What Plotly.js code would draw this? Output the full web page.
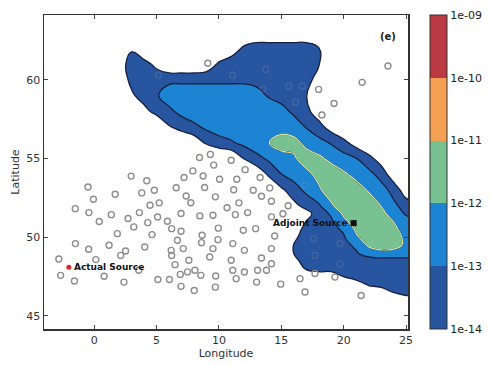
<!DOCTYPE html>
<html>
<head>
<meta charset="utf-8">
<script src="https://cdn.plot.ly/plotly-3.0.1.min.js"></script>
<style>
  html, body { margin: 0; padding: 0; background: #fff; }
  #chart { width: 492px; height: 365px; }
</style>
</head>
<body>
<div id="chart"></div>
<script>
// Grid of the modelled field: longitude columns, latitude rows
const lonGrid = [2, 3, 4, 5, 6, 7, 8, 9, 10, 11, 12, 13, 14, 15, 16, 17, 18, 19, 20, 21, 22, 23, 24, 25, 26];
const latGrid = [46, 46.5, 47, 47.5, 48, 48.5, 49, 49.5, 50, 50.5, 51, 51.5, 52, 53, 54, 55, 56, 57, 58, 59, 60, 61, 62, 63];

// log10 of the sensitivity / concentration at each grid node (rows follow latGrid)
const logField = [
  [-15,-15,-15,-15,-15,-15,-15,-15,-15,-15,-15,-15,-15,-15,-15,-15,-15,-15,-15,-15,-15,-15,-15,-14.9,-14.8],
  [-15,-15,-15,-15,-15,-15,-15,-15,-15,-15,-15,-15,-15,-15,-15,-15,-15,-15,-15,-15,-15,-15,-13.98,-13.4,-13.4],
  [-15,-15,-15,-15,-15,-15,-15,-15,-15,-15,-15,-15,-15,-15,-15,-15,-15,-15,-15,-14.75,-13.85,-13.4,-13.4,-13.4,-13.4],
  [-15,-15,-15,-15,-15,-15,-15,-15,-15,-15,-15,-15,-15,-15,-15,-15,-15,-15,-13.98,-13.4,-13.4,-13.4,-13.4,-13.4,-13.4],
  [-15,-15,-15,-15,-15,-15,-15,-15,-15,-15,-15,-15,-15,-15,-14.8,-13.88,-13.4,-13.4,-13.4,-13.4,-13.4,-13.4,-13.4,-13.4,-13.4],
  [-15,-15,-15,-15,-15,-15,-15,-15,-15,-15,-15,-15,-15,-15,-14.3,-13.58,-13.4,-13.4,-13.4,-13.4,-13.4,-13.4,-13.4,-13.4,-13.4],
  [-15,-15,-15,-15,-15,-15,-15,-15,-15,-15,-15,-15,-15,-15,-13.98,-13.81,-13.63,-13.44,-13.26,-13.07,-12.6,-12.35,-12.35,-12.35,-12.35],
  [-15,-15,-15,-15,-15,-15,-15,-15,-15,-15,-15,-15,-15,-15,-13.98,-13.8,-13.59,-13.39,-13.18,-12.87,-11.83,-11.5,-11.65,-12.18,-12.5],
  [-15,-15,-15,-15,-15,-15,-15,-15,-15,-15,-15,-15,-15,-15,-14.1,-13.79,-13.56,-13.33,-13.09,-12.14,-11.55,-11.5,-11.65,-12.18,-12.6],
  [-15,-15,-15,-15,-15,-15,-15,-15,-15,-15,-15,-15,-15,-15,-14.3,-13.81,-13.53,-13.25,-12.88,-11.85,-11.5,-11.5,-11.8,-12.36,-12.6],
  [-15,-15,-15,-15,-15,-15,-15,-15,-15,-15,-15,-15,-15,-15,-14.85,-13.97,-13.55,-13.16,-12.25,-11.6,-11.5,-11.5,-12.02,-12.6,-12.7],
  [-15,-15,-15,-15,-15,-15,-15,-15,-15,-15,-15,-15,-15,-15,-15,-14.4,-13.5,-12.87,-11.83,-11.5,-11.5,-11.75,-12.38,-13.12,-13.6],
  [-15,-15,-15,-15,-15,-15,-15,-15,-15,-15,-15,-15,-15,-15,-14.3,-13.65,-13.15,-12.13,-11.55,-11.5,-11.5,-12.02,-12.77,-13.42,-13.6],
  [-15,-15,-15,-15,-15,-15,-15,-15,-15,-15,-15,-15,-15,-14.2,-13.45,-12.77,-12.13,-11.6,-11.5,-11.58,-12.08,-12.59,-13.33,-14.6,-15],
  [-15,-15,-15,-15,-15,-15,-15,-15,-15,-15,-15,-14.8,-13.83,-13.02,-12.61,-12.22,-11.78,-11.5,-11.85,-12.28,-12.68,-13.36,-14.65,-15,-15],
  [-15,-15,-15,-15,-15,-15,-15,-15,-15,-15,-13.98,-13.33,-12.82,-12.46,-12.11,-11.65,-11.8,-12.22,-12.59,-12.96,-13.64,-14.5,-15,-15,-15],
  [-15,-15,-15,-15,-15,-15,-14.7,-13.88,-13.5,-13.12,-12.75,-12.38,-12.02,-11.53,-11.75,-12.21,-12.64,-13.09,-13.68,-14.45,-15,-15,-15,-15,-15],
  [-15,-15,-15,-15,-14.1,-13.65,-13.25,-12.79,-12.4,-12.4,-12.4,-12.4,-12.4,-12.4,-12.4,-13.05,-13.63,-14.4,-15,-15,-15,-15,-15,-15,-15],
  [-15,-15,-14.3,-13.68,-13.23,-12.7,-12.4,-12.4,-12.4,-12.4,-12.4,-12.4,-12.4,-12.64,-13.21,-13.74,-14.5,-15,-15,-15,-15,-15,-15,-15,-15],
  [-15,-14.15,-13.59,-13.1,-12.52,-12.4,-12.4,-12.4,-12.4,-12.4,-12.4,-12.61,-13.1,-13.39,-13.67,-13.96,-14.85,-15,-15,-15,-15,-15,-15,-15,-15],
  [-14.6,-13.76,-13.4,-13.3,-13.2,-13.2,-13.2,-13.2,-13.2,-13.2,-13.2,-13.3,-13.4,-13.4,-13.4,-13.64,-14.4,-15,-15,-15,-15,-15,-15,-15,-15],
  [-14.4,-13.64,-13.58,-14.3,-15,-15,-15,-14.7,-13.82,-13.4,-13.4,-13.4,-13.4,-13.4,-13.4,-13.4,-13.94,-14.9,-15,-15,-15,-15,-15,-15,-15],
  [-15,-14.1,-15,-15,-15,-15,-15,-15,-15,-14.6,-13.8,-13.4,-13.4,-13.4,-13.4,-13.4,-13.94,-14.9,-15,-15,-15,-15,-15,-15,-15],
  [-15,-15,-15,-15,-15,-15,-15,-15,-15,-15,-15,-15,-15,-15,-15,-15,-15,-15,-15,-15,-15,-15,-15,-15,-15]
];

// Contour levels (exponents) and their colour-bar labels
const levelExp = [-14, -13, -12, -11, -10, -9];
const levelLabels = ['1e-14', '1e-13', '1e-12', '1e-11', '1e-10', '1e-09'];
const bandColors = ['#27559f', '#1d84d4', '#78c190', '#f4a052', '#ba3942'];

// Measurement stations
const stationLon = [
  2.96, 4.21, -0.5, -0.07, 1.68, 3.81, 4.82, 5.21, 4.47, -1.52,
  -0.43, 1.37, 3.62, 2.71, 5.08, 5.87, 0.4, 4.29, 6.57, 3.17,
  1.85, 4.63, -1.51, -0.45, 1.19, 4.05, -2.84, -2.7, -1.59, 0.13,
  0.79, 2.38, 2.51, 2.12, 3.57, 5.1, 6.03, 6.17, 6.21, 6.48,
  6.96, 6.21, 6.67, 6.96, 7.14, 6.9, 6.96, 7.59, 7.48, 8.02,
  8.55, 8.07, 8.47, 8.65, 8.6, 7.37, 7.74, 8.85, 9.71, 9.52,
  9.95, 9.92, 9.52, 9.26, 9.74, 9.71, 10.65, 11.32, 11.6, 11.11,
  10.98, 11.11, 11.38, 12.04, 11.95, 12.04, 11.18, 8.44, 9.31, 10.98,
  9.58, 7.91, 8.73, 10.05, 12.1, 7.2, 11.43, 13.3, 12.75, 14.07,
  13.41, 14.21, 15.55, 12.3, 14.21, 15.13, 12.94, 14.47, 14.21, 13.41,
  14.21, 13.1, 13.81, 13.02, 14.95, 17.7, 19.3, 16.5, 16.9, 21.4,
  23.55, 21.48, 17.99, 19.23, 18.25, 9.1
];
const stationLat = [
  53.89, 53.59, 53.2, 52.42, 52.74, 52.82, 52.99, 52.19, 52.04, 51.82,
  51.57, 51.44, 51.57, 51.19, 51.29, 51.02, 51.0, 50.93, 53.15, 50.66,
  50.23, 50.17, 49.6, 49.24, 49.49, 49.38, 48.62, 47.58, 47.22, 48.58,
  47.52, 47.15, 49.13, 48.85, 47.9, 47.32, 47.32, 49.17, 48.85, 48.26,
  51.51, 50.55, 49.81, 50.38, 49.28, 47.64, 46.88, 48.54, 47.8, 46.62,
  47.58, 47.9, 51.36, 50.13, 49.66, 52.62, 52.2, 53.16, 52.57, 51.4,
  50.58, 49.85, 49.28, 48.75, 47.54, 46.83, 51.88, 51.44, 52.19, 49.6,
  48.54, 47.9, 47.37, 47.79, 50.45, 49.17, 53.02, 55.07, 55.27, 54.9,
  54.59, 54.22, 53.9, 53.69, 54.3, 53.8, 53.69, 53.8, 52.99, 53.14,
  52.61, 52.29, 52.0, 51.57, 51.3, 51.5, 50.55, 50.08, 49.28, 48.68,
  48.32, 47.9, 47.9, 47.15, 47.02, 47.7, 47.47, 47.37, 46.52, 46.3,
  60.89, 59.85, 59.4, 58.5, 57.77, 61.06
];
// Stations lying under the plume
const coveredLon = [5.16, 11.1, 13.76, 15.6, 16.67, 16.14, 13.5, 16.9, 17.6, 19.7, 17.7, 19.7];
const coveredLat = [60.3, 60.3, 60.68, 59.6, 59.6, 58.6, 59.4, 53.3, 49.9, 49.6, 48.85, 48.3];

// Source locations
const actualLon = [-2.04], actualLat = [48.1];
const adjointLon = [20.8], adjointLat = [50.9];

const fillScale = [[0, 'rgba(255,255,255,0)']];
bandColors.forEach((c, i) => fillScale.push([(i + 1) / 6, c]));
fillScale.push([1, bandColors[bandColors.length - 1]]);

const barScale = [];
bandColors.forEach((c, i) => {
  barScale.push([i / bandColors.length, c]);
  barScale.push([(i + 1) / bandColors.length, c]);
});

const font = 'DejaVu Sans, Arial, sans-serif';

const traces = [
  {
    type: 'contour',
    x: lonGrid, y: latGrid, z: logField,
    autocontour: false,
    contours: { start: levelExp[0], end: levelExp[levelExp.length - 1], size: 1, coloring: 'fill', showlines: true },
    colorscale: fillScale,
    line: { color: '#19203f', width: 1.3, smoothing: 1.3 },
    showscale: false,
    hoverinfo: 'skip'
  },
  {
    type: 'contour',
    x: lonGrid, y: latGrid, z: logField,
    autocontour: false,
    contours: { start: -12, end: -12, size: 1, coloring: 'none', showlines: true },
    line: { color: '#dce8a4', width: 1.2, smoothing: 1.3 },
    showscale: false,
    hoverinfo: 'skip'
  },
  {
    // colour bar for the contour bands
    type: 'heatmap',
    x: [100, 101], y: [100], z: [[levelExp[0], levelExp[levelExp.length - 1]]],
    zmin: levelExp[0], zmax: levelExp[levelExp.length - 1],
    colorscale: barScale,
    hoverinfo: 'skip',
    colorbar: {
      x: 1.06, xanchor: 'left', xpad: 0,
      y: 0.5, yanchor: 'middle', ypad: 0,
      len: 1, lenmode: 'fraction',
      thickness: 17,
      outlinewidth: 1, outlinecolor: '#333',
      tickvals: levelExp, ticktext: levelLabels,
      ticks: '', ticklabelpad: 3,
      tickfont: { family: font, size: 11, color: '#222' }
    }
  },
  {
    type: 'scatter', mode: 'markers',
    x: coveredLon, y: coveredLat,
    marker: { symbol: 'circle-open', size: 6, color: 'rgba(160,160,185,0.22)', line: { width: 1.3 } },
    hoverinfo: 'skip', showlegend: false
  },
  {
    type: 'scatter', mode: 'markers',
    x: stationLon, y: stationLat,
    marker: { symbol: 'circle-open', size: 6, color: '#8d8d8d', line: { width: 1.4 } },
    showlegend: false
  },
  {
    type: 'scatter', mode: 'markers',
    x: actualLon, y: actualLat,
    marker: { symbol: 'circle', size: 5, color: '#e0262b' },
    showlegend: false
  },
  {
    type: 'scatter', mode: 'markers',
    x: adjointLon, y: adjointLat,
    marker: { symbol: 'square', size: 6, color: '#111' },
    showlegend: false
  }
];

const layout = {
  width: 492, height: 365,
  margin: { l: 44, r: 79, t: 15, b: 36 },
  paper_bgcolor: '#fff', plot_bgcolor: '#fff',
  font: { family: font, size: 11, color: '#333' },
  showlegend: false,
  xaxis: {
    range: [-4.03, 25.16],
    tick0: 0, dtick: 5,
    ticks: 'inside', ticklen: 4, tickcolor: '#444',
    showline: true, linecolor: '#333', linewidth: 1.5, mirror: 'ticks',
    showgrid: false, zeroline: false,
    tickfont: { family: font, size: 11, color: '#333' },
    title: { text: 'Longitude', font: { family: font, size: 11, color: '#333' }, standoff: 3 }
  },
  yaxis: {
    range: [44.17, 64.13],
    tick0: 45, dtick: 5,
    ticks: 'inside', ticklen: 4, tickcolor: '#444',
    showline: true, linecolor: '#333', linewidth: 1.5, mirror: 'ticks',
    showgrid: false, zeroline: false,
    tickfont: { family: font, size: 11, color: '#333' },
    title: { text: 'Latitude', font: { family: font, size: 11, color: '#333' }, standoff: 4 }
  },
  annotations: [
    {
      x: actualLon[0], y: actualLat[0], xref: 'x', yref: 'y',
      text: '<b>Actual Source</b>', showarrow: false,
      xanchor: 'left', yanchor: 'middle', xshift: 3,
      font: { family: font, size: 9, color: '#111' }
    },
    {
      x: adjointLon[0], y: adjointLat[0], xref: 'x', yref: 'y',
      text: '<b>Adjoint Source</b>', showarrow: false,
      xanchor: 'right', yanchor: 'middle', xshift: -4,
      font: { family: font, size: 9, color: '#111' }
    },
    {
      x: 0.946, y: 0.93, xref: 'paper', yref: 'paper',
      text: '<b>(e)</b>', showarrow: false,
      xanchor: 'center', yanchor: 'middle',
      font: { family: font, size: 10, color: '#222' }
    }
  ]
};

Plotly.newPlot('chart', traces, layout, { staticPlot: true, displayModeBar: false });
</script>
</body>
</html>
